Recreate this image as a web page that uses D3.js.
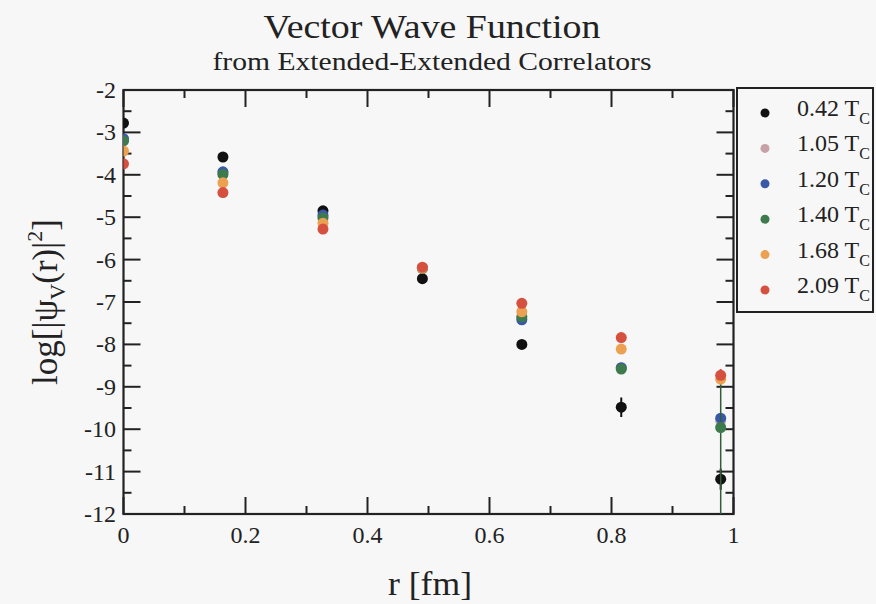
<!DOCTYPE html>
<html>
<head>
<meta charset="utf-8">
<script src="https://cdn.jsdelivr.net/npm/d3@7"></script>
<style>
  html, body { margin: 0; padding: 0; background: #f7f7f7; }
  svg { display: block; font-family: "Liberation Serif", "DejaVu Serif", serif; }
</style>
</head>
<body>
<div id="chart"></div>
<script>
// r positions (fm)
const rValues = [0, 0.163, 0.327, 0.49, 0.653, 0.816, 0.979];

// temperature labels, colours
const tempLabels = ["0.42", "1.05", "1.20", "1.40", "1.68", "2.09"];
const tempColors = ["#111111", "#c6a2a6", "#3a58a8", "#3d7a4c", "#eca152", "#d5503e"];

// log|psi_V(r)|^2 per temperature
const t042 = [-2.78, -3.58, -4.85, -6.45, -8.00, -9.48, -11.18];
const t105 = [-3.18, -3.95, -4.98, -6.20, -7.38, -8.55, -9.80];
const t120 = [-3.15, -3.93, -4.95, -6.20, -7.42, -8.55, -9.74];
const t140 = [-3.20, -3.99, -5.02, -6.21, -7.35, -8.58, -9.96];
const t168 = [-3.44, -4.19, -5.14, -6.20, -7.23, -8.11, -8.82];
const t209 = [-3.74, -4.42, -5.28, -6.18, -7.03, -7.84, -8.73];

// error bars (down, up) - most are hidden under the markers
const err042 = [[0.05, 0.05], [0.05, 0.05], [0.05, 0.05], [0.05, 0.05], [0.05, 0.05], [0.23, 0.23], [0.25, 0.25]];
const err140 = [[0, 0], [0, 0], [0, 0], [0, 0], [0, 0], [0.05, 0.05], [3.0, 1.05]];
const err209 = [[0, 0], [0, 0], [0, 0], [0, 0], [0, 0], [0, 0], [0.1, 0.15]];

const series = [t042, t105, t120, t140, t168, t209];
const errors = [err042, null, null, err140, null, err209];

const width = 876, height = 604;
const x = d3.scaleLinear().domain([0, 1]).range([123.5, 733.5]);
const y = d3.scaleLinear().domain([-12, -2]).range([514, 90]);

const svg = d3.select("#chart").append("svg")
    .attr("width", width)
    .attr("height", height);

// titles (the scan is a bit stretched sideways, so fit the widths)
svg.append("text")
    .attr("x", 432).attr("y", 38)
    .attr("text-anchor", "middle")
    .attr("font-size", 33)
    .attr("textLength", 337).attr("lengthAdjust", "spacingAndGlyphs")
    .attr("fill", "#222")
    .text("Vector Wave Function");
svg.append("text")
    .attr("x", 432).attr("y", 70)
    .attr("text-anchor", "middle")
    .attr("font-size", 25)
    .attr("textLength", 439).attr("lengthAdjust", "spacingAndGlyphs")
    .attr("fill", "#222")
    .text("from Extended-Extended Correlators");

svg.append("clipPath").attr("id", "clip")
  .append("rect")
    .attr("x", x(0)).attr("y", y(-2))
    .attr("width", x(1) - x(0)).attr("height", y(-12) - y(-2));

// ticks
const ticks = svg.append("g").attr("stroke", "#222").attr("stroke-width", 2);
const xMajor = d3.range(0, 1.0001, 0.2);
const xMinor = d3.range(0.1, 1, 0.2);
const yMajor = d3.range(-12, -1.9999, 1);
const yMinor = d3.range(-11.5, -2, 1);

ticks.selectAll(".xt").data(xMajor.map(v => [v, 17]).concat(xMinor.map(v => [v, 8])))
  .join(g => {
    const s = g.append("g");
    s.append("line").attr("x1", d => x(d[0])).attr("x2", d => x(d[0]))
      .attr("y1", y(-12)).attr("y2", d => y(-12) - d[1]);
    s.append("line").attr("x1", d => x(d[0])).attr("x2", d => x(d[0]))
      .attr("y1", y(-2)).attr("y2", d => y(-2) + d[1]);
    return s;
  });
ticks.selectAll(".yt").data(yMajor.map(v => [v, 17]).concat(yMinor.map(v => [v, 8])))
  .join(g => {
    const s = g.append("g");
    s.append("line").attr("y1", d => y(d[0])).attr("y2", d => y(d[0]))
      .attr("x1", x(0)).attr("x2", d => x(0) + d[1]);
    s.append("line").attr("y1", d => y(d[0])).attr("y2", d => y(d[0]))
      .attr("x1", x(1)).attr("x2", d => x(1) - d[1]);
    return s;
  });

// frame
svg.append("rect")
    .attr("x", x(0)).attr("y", y(-2))
    .attr("width", x(1) - x(0)).attr("height", y(-12) - y(-2))
    .attr("fill", "none").attr("stroke", "#222").attr("stroke-width", 2.2);

// tick labels
svg.append("g").attr("font-size", 24).attr("fill", "#222")
  .selectAll("text").data(xMajor).join("text")
    .attr("x", d => x(d)).attr("y", 543)
    .attr("text-anchor", "middle")
    .text(d => String(+d.toFixed(1)));
svg.append("g").attr("font-size", 24).attr("fill", "#222")
  .selectAll("text").data(yMajor).join("text")
    .attr("x", 116).attr("y", d => y(d) + 8)
    .attr("text-anchor", "end")
    .text(d => String(d));

// axis titles
svg.append("text")
    .attr("x", 430).attr("y", 595)
    .attr("text-anchor", "middle")
    .attr("font-size", 33).attr("fill", "#222")
    .attr("textLength", 84).attr("lengthAdjust", "spacingAndGlyphs")
    .text("r [fm]");
const ylab = svg.append("text")
    .attr("transform", "translate(57,302) rotate(-90)")
    .attr("text-anchor", "middle")
    .attr("font-size", 35).attr("fill", "#222");
ylab.append("tspan").text("log[|ψ");
ylab.append("tspan").attr("font-size", 22).attr("dy", 8).text("V");
ylab.append("tspan").attr("dy", -8).text("(r)|");
ylab.append("tspan").attr("font-size", 22).attr("dy", -15).text("2");
ylab.append("tspan").attr("dy", 15).text("]");

// data
const plot = svg.append("g").attr("clip-path", "url(#clip)");
series.forEach((vals, si) => {
  const g = plot.append("g");
  const err = errors[si];
  if (err) {
    g.selectAll("line").data(vals.map((v, i) => [i, v])).join("line")
      .attr("x1", d => x(rValues[d[0]])).attr("x2", d => x(rValues[d[0]]))
      .attr("y1", d => y(d[1] - err[d[0]][0]))
      .attr("y2", d => y(d[1] + err[d[0]][1]))
      .attr("stroke", si === 3 ? "#2e5e3a" : tempColors[si])
      .attr("stroke-width", si === 3 ? 1.5 : 2);
  }
  g.selectAll("circle").data(vals.map((v, i) => [i, v])).join("circle")
    .attr("cx", d => x(rValues[d[0]]))
    .attr("cy", d => y(d[1]))
    .attr("r", 5.5)
    .attr("fill", tempColors[si]);
});

// legend
const legend = svg.append("g");
legend.append("rect")
    .attr("x", 737).attr("y", 88)
    .attr("width", 136).attr("height", 224)
    .attr("fill", "none").attr("stroke", "#222").attr("stroke-width", 2);
const rowY = d3.scaleLinear().domain([0, 5]).range([113, 290]);
const items = legend.selectAll(".item").data(tempLabels).join("g");
items.append("circle")
    .attr("cx", 765).attr("cy", (d, i) => rowY(i))
    .attr("r", 4.5)
    .attr("fill", (d, i) => tempColors[i]);
const lt = items.append("text")
    .attr("x", 797).attr("y", (d, i) => rowY(i) + 3)
    .attr("font-size", 24).attr("fill", "#222");
lt.append("tspan").text(d => d + " T");
lt.append("tspan").attr("font-size", 16).attr("dy", 8).text("C");
</script>
</body>
</html>
